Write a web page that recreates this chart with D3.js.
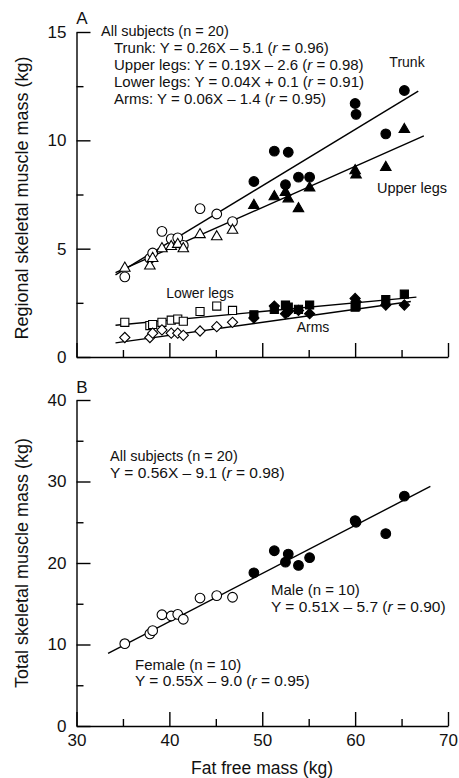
<!DOCTYPE html>
<html><head><meta charset="utf-8">
<script src="https://cdn.jsdelivr.net/npm/d3@7/dist/d3.min.js"></script>
<style>
html,body{margin:0;padding:0;background:#fff;}
svg{display:block;font-family:"Liberation Sans",Arial,sans-serif;}
</style></head>
<body><svg id="c" width="459" height="778"></svg>
<script>
// ---- data ----
const femaleFFM   = [35.2, 37.9, 38.2, 39.2, 40.2, 40.9, 41.5, 43.3, 45.1, 46.8];
const maleFFM     = [49.1, 51.3, 52.5, 52.8, 53.9, 55.1, 60.0, 60.1, 63.3, 65.3];
const femaleTrunk = [3.7, 4.55, 4.8, 5.8, 5.45, 5.5, 5.15, 6.85, 6.6, 6.25];
const maleTrunk   = [8.1, 9.5, 7.95, 9.45, 8.3, 8.3, 11.7, 11.2, 10.3, 12.3];
const femaleUpper = [4.1, 4.2, 4.55, 5.0, 5.1, 5.2, 5.0, 5.65, 5.55, 5.85];
const maleUpper   = [7.0, 7.4, 7.6, 7.3, 6.85, 7.8, 8.6, 8.4, 8.75, 10.5];
const femaleLower = [1.6, 1.45, 1.5, 1.6, 1.7, 1.75, 1.65, 2.1, 2.35, 2.15];
const maleLower   = [1.95, 2.2, 2.4, 2.3, 2.2, 2.4, 2.3, 2.35, 2.65, 2.9];
const femaleArms  = [0.9, 0.9, 1.1, 1.25, 1.1, 1.1, 1.0, 1.2, 1.4, 1.6];
const maleArms    = [1.8, 2.35, 2.0, 2.1, 2.15, 2.0, 2.7, 2.55, 2.4, 2.4];
const femaleTotal = [10.1, 11.3, 11.7, 13.65, 13.5, 13.7, 13.1, 15.7, 16.0, 15.8];
const maleTotal   = [18.8, 21.5, 20.1, 21.1, 19.7, 20.65, 25.2, 25.0, 23.6, 28.2];
// regression lines: [slope, intercept, xStart, xEnd]
const fitTrunk = [0.26, -5.1, 34.2, 66.8];
const fitUpper = [0.19, -2.6, 34.2, 67.4];
const fitLower = [0.04, 0.1, 34.2, 66.6];
const fitArms  = [0.06, -1.4, 34.2, 66.0];
const fitTotalEnds = [[33.4, 8.9], [68.1, 29.4]];
const xTicksMajor = [30, 40, 50, 60, 70];
const xTicksMinor = [35, 45, 55, 65];
const yTopMajor = [0, 5, 10, 15];
const yTopMinor = [2.5, 7.5, 12.5];
const yBotMajor = [0, 10, 20, 30, 40];
const yBotMinor = [5, 15, 25, 35];

// ---- layout ----
const svg = d3.select("#c");
const x = d3.scaleLinear().domain([30, 70]).range([76.5, 448]);
const yT = d3.scaleLinear().domain([0, 15]).range([357, 32]);
const yB = d3.scaleLinear().domain([0, 40]).range([726, 400]);

function axes(y, ymaj, ymin, showX) {
  const gx = svg.append("g").attr("transform", `translate(0,${y.range()[0]})`);
  gx.call(d3.axisBottom(x).tickValues(xTicksMajor).tickSize(-14).tickSizeOuter(0).tickPadding(8)
    .tickFormat(showX ? d3.format("d") : () => ""));
  gx.append("g").call(d3.axisBottom(x).tickValues(xTicksMinor).tickSize(-7).tickSizeOuter(0).tickFormat(() => ""))
    .select(".domain").remove();
  const gy = svg.append("g").attr("transform", `translate(${x.range()[0]},0)`);
  gy.call(d3.axisLeft(y).tickValues(ymaj).tickSize(-14).tickSizeOuter(0).tickPadding(10).tickFormat(d3.format("d")));
  gy.append("g").call(d3.axisLeft(y).tickValues(ymin).tickSize(-7).tickSizeOuter(0).tickFormat(() => ""))
    .select(".domain").remove();
  [gx, gy].forEach(g => {
    g.selectAll("path,line").attr("stroke", "#000").attr("stroke-width", 1.4);
    g.selectAll("text").attr("font-size", 17).attr("fill", "#111").attr("font-family", "Liberation Sans, Arial, sans-serif");
  });
}
axes(yT, yTopMajor, yTopMinor, false);
axes(yB, yBotMajor, yBotMinor, true);

// regression lines
function fitLine(f, y) {
  svg.append("line").attr("x1", x(f[2])).attr("y1", y(f[0] * f[2] + f[1]))
    .attr("x2", x(f[3])).attr("y2", y(f[0] * f[3] + f[1]))
    .attr("stroke", "#000").attr("stroke-width", 1.4);
}
[fitTrunk, fitUpper, fitLower, fitArms].forEach(f => fitLine(f, yT));
svg.append("line").attr("x1", x(fitTotalEnds[0][0])).attr("y1", yB(fitTotalEnds[0][1]))
  .attr("x2", x(fitTotalEnds[1][0])).attr("y2", yB(fitTotalEnds[1][1]))
  .attr("stroke", "#000").attr("stroke-width", 1.4);

// markers
const shapes = {
  circle: d3.symbol().type(d3.symbolCircle).size(74),
  triangle: d3.symbol().type(d3.symbolTriangle).size(48),
  square: d3.symbol().type(d3.symbolSquare).size(66),
  diamond: d3.symbol().type(d3.symbolSquare).size(52)
};
function pts(xs, ys, y, shape, filled) {
  svg.append("g").selectAll("path").data(xs.map((v, i) => [v, ys[i]])).join("path")
    .attr("d", shapes[shape])
    .attr("transform", d => `translate(${x(d[0])},${y(d[1])})` + (shape === "diamond" ? " rotate(45)" : ""))
    .attr("fill", filled ? "#000" : "#fff").attr("stroke", "#000").attr("stroke-width", 1.1);
}
pts(femaleFFM, femaleTrunk, yT, "circle", false);
pts(femaleFFM, femaleUpper, yT, "triangle", false);
pts(femaleFFM, femaleLower, yT, "square", false);
pts(femaleFFM, femaleArms, yT, "diamond", false);
pts(maleFFM, maleTrunk, yT, "circle", true);
pts(maleFFM, maleUpper, yT, "triangle", true);
pts(maleFFM, maleLower, yT, "square", true);
pts(maleFFM, maleArms, yT, "diamond", true);
pts(femaleFFM, femaleTotal, yB, "circle", false);
pts(maleFFM, maleTotal, yB, "circle", true);

// text
function txt(xp, yp, parts, size, anchor) {
  const t = svg.append("text").attr("x", xp).attr("y", yp).attr("font-size", size || 15)
    .attr("fill", "#111").attr("text-anchor", anchor || "start");
  (Array.isArray(parts) ? parts : [parts]).forEach(p => {
    const s = t.append("tspan").text(typeof p === "string" ? p : p.t);
    if (typeof p !== "string") s.attr("font-style", "italic");
  });
  return t;
}
const eq = (a, b) => [a, {t: "r"}, b];
txt(82, 24, "A", 17, "middle");
txt(82, 393, "B", 17, "middle");
txt(101, 36, "All subjects (n = 20)", 14.5);
txt(114, 53, eq("Trunk: Y = 0.26X – 5.1 (", " = 0.96)"));
txt(114, 70, eq("Upper legs: Y = 0.19X – 2.6 (", " = 0.98)"));
txt(114, 87, eq("Lower legs: Y = 0.04X + 0.1 (", " = 0.91)"));
txt(114, 104, eq("Arms: Y = 0.06X – 1.4 (", " = 0.95)"));
txt(407, 67, "Trunk", 14, "middle");
txt(412, 193, "Upper legs", 14.5, "middle");
txt(200, 298, "Lower legs", 14, "middle");
txt(313, 332, "Arms", 14, "middle");
txt(110, 461, "All subjects (n = 20)", 14.5);
txt(110, 478, eq("Y = 0.56X – 9.1 (", " = 0.98)"), 15.5);
txt(271, 595, "Male (n = 10)");
txt(271, 612, eq("Y = 0.51X – 5.7 (", " = 0.90)"), 15.5);
txt(135, 670, "Female (n = 10)");
txt(135, 686, eq("Y = 0.55X – 9.0 (", " = 0.95)"), 15.5);
// axis titles
svg.append("text").attr("transform", "translate(28,198) rotate(-90)").attr("text-anchor", "middle")
  .attr("font-size", 18).attr("fill", "#111").text("Regional skeletal muscle mass (kg)");
svg.append("text").attr("transform", "translate(28,563) rotate(-90)").attr("text-anchor", "middle")
  .attr("font-size", 18).attr("fill", "#111").text("Total skeletal muscle mass (kg)");
svg.append("text").attr("x", 262).attr("y", 774).attr("text-anchor", "middle")
  .attr("font-size", 17.5).attr("fill", "#111").text("Fat free mass (kg)");
</script></body></html>
